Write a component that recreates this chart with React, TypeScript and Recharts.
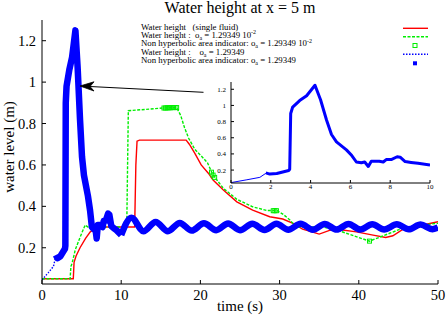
import React from 'react';
import { ComposedChart, Line, Scatter, XAxis, YAxis } from 'recharts';

type P = [number, number];

// tick labels
const xTicks = [0, 10, 20, 30, 40, 50];
const yTicks = [0.2, 0.4, 0.6, 0.8, 1, 1.2];
const insetXTicks = [0, 2, 4, 6, 8, 10];

// Water height (single fluid) - red
const redSingleFluid: P[] = [
  [0, 0.05], [3.95, 0.05], [4.05, 0.13], [4.3, 0.16], [4.8, 0.2], [5.5, 0.245],
  [6.1, 0.277], [6.9, 0.3], [11.7, 0.3], [11.85, 0.6], [12.0, 0.715], [12.3, 0.72],
  [18.2, 0.72], [18.6, 0.7], [19.3, 0.656], [20.1, 0.6], [21.0, 0.56], [21.6, 0.527],
  [22.9, 0.479], [24.6, 0.422], [26.6, 0.382], [28.75, 0.35], [30.4, 0.339],
  [31.7, 0.318], [32.9, 0.29], [35.0, 0.266], [36.3, 0.284], [37.5, 0.288],
  [39.7, 0.277], [41.8, 0.261], [43.4, 0.25], [44.3, 0.258], [45.5, 0.288],
  [48.1, 0.31], [50, 0.326],
];

// Water height : o_a = 1.29349e-2 - green dashed
const greenLowOa: P[] = [
  [0, 0.05], [3.55, 0.05], [3.65, 0.11], [3.8, 0.125], [4.2, 0.19], [4.8, 0.25],
  [5.45, 0.31], [5.8, 0.3], [10.7, 0.3], [10.9, 0.862], [13, 0.868], [15.3, 0.875],
  [17.0, 0.877], [17.5, 0.84], [18.0, 0.78], [18.5, 0.73], [19.3, 0.675],
  [20.2, 0.64], [20.9, 0.61], [21.6, 0.551], [22.9, 0.487], [24.6, 0.434],
  [26.6, 0.398], [28.4, 0.38], [29.7, 0.379], [30.5, 0.36], [31.3, 0.334],
  [32.1, 0.3], [35.5, 0.3], [37.2, 0.286], [41.35, 0.232], [43.9, 0.27],
  [45.5, 0.294], [49.75, 0.318], [50, 0.318],
];

// Non hyperbolic area indicator (o_a = 1.29349e-2) - green squares
const greenIndicator: P[] = [
  [15.4, 0.875], [15.6, 0.875], [15.8, 0.876], [16.0, 0.876], [16.2, 0.876],
  [16.4, 0.877], [16.6, 0.877], [16.8, 0.877], [17.0, 0.877],
  [21.4, 0.565], [21.6, 0.551], [21.8, 0.54],
  [29.2, 0.379], [29.4, 0.379], [29.6, 0.379],
  [41.35, 0.232],
];

// Water height : o_a = 1.29349 - blue dotted (before indicator)
const blueStart: P[] = [[0, 0.045], [0.8, 0.08], [1.45, 0.11], [1.75, 0.16]];

// Non hyperbolic area indicator (o_a = 1.29349) - blue squares, surge part
const blueSurge: P[] = [
  [1.75, 0.165], [1.95, 0.15], [2.3, 0.158], [2.9, 0.195], [2.95, 0.21],
  [3.0, 0.9], [3.1, 0.98], [3.45, 1.06], [3.8, 1.12], [4.22, 1.25], [4.5, 1.07],
  [4.8, 0.82], [5.05, 0.64], [5.3, 0.55], [5.8, 0.45], [6.07, 0.38], [6.3, 0.3],
  [6.55, 0.29], [6.72, 0.3], [6.9, 0.245], [7.05, 0.31], [7.45, 0.31],
  [7.65, 0.3], [7.8, 0.33], [8.05, 0.33], [8.35, 0.365], [8.5, 0.36],
  [8.75, 0.305], [9.05, 0.295], [9.4, 0.285], [10.0, 0.262],
];

// blue squares, oscillating part
const blueOscillation: P[] = [
  [10.0, 0.262], [11.3, 0.345], [12.8, 0.28], [14.35, 0.325], [15.9, 0.28],
  [17.4, 0.32], [18.9, 0.283], [20.45, 0.318], [22.0, 0.285], [23.5, 0.317],
  [25.0, 0.285], [26.55, 0.316], [28.1, 0.286], [29.6, 0.316], [31.1, 0.287],
  [32.65, 0.316], [34.2, 0.287], [35.7, 0.315], [37.2, 0.288], [38.7, 0.315],
  [40.2, 0.288], [41.7, 0.314], [43.2, 0.288], [44.8, 0.313], [46.3, 0.289],
  [47.8, 0.312], [49.3, 0.29], [50, 0.298],
];

const pts = (a: P[]) => a.map(([t, v]) => ({ t, v }));

const RED = '#ff0000';
const GREEN = '#00ee00';
const BLUE = '#0000ff';
const FONT = "'Liberation Serif', 'Times New Roman', serif";

const fmt = (v: number) => String(+v.toFixed(1));

const OpenSquare = (p: any) => (
  <rect x={p.cx - 2} y={p.cy - 2} width={4} height={4} fill="none" stroke={GREEN} strokeWidth={1} />
);

const axisLine = { stroke: '#000', strokeWidth: 1 };

const makeXTick = (fs: number, dy: number) => (p: any) => (
  <text x={p.x} y={p.y} dy={dy} textAnchor="middle" fontSize={fs} fill="#000"
    style={{ fontFamily: FONT }}>
    {fmt(p.payload.value)}
  </text>
);
const makeYTick = (fs: number, dy: number) => (p: any) => (
  <text x={p.x} y={p.y} dy={dy} textAnchor="end" fontSize={fs} fill="#000"
    style={{ fontFamily: FONT }}>
    {fmt(p.payload.value)}
  </text>
);

function MainChart() {
  return (
    <ComposedChart width={448} height={316} margin={{ top: 20, right: 10, bottom: 0, left: 0 }}>
      <XAxis dataKey="t" type="number" domain={[0, 50]} ticks={xTicks} interval={0}
        allowDataOverflow height={32} tickSize={-4} tickMargin={10}
        axisLine={axisLine} tickLine={axisLine} tick={makeXTick(14.5, 10)} />
      <XAxis xAxisId="top" orientation="top" type="number" domain={[0, 50]} ticks={xTicks}
        interval={0} mirror height={0} tickSize={4} tick={false}
        axisLine={axisLine} tickLine={axisLine} />
      <YAxis dataKey="v" type="number" domain={[0.025, 1.3]} ticks={yTicks} interval={0}
        allowDataOverflow width={42} tickSize={-4} tickMargin={10}
        axisLine={axisLine} tickLine={axisLine} tick={makeYTick(14.5, 5)} />
      <YAxis yAxisId="right" orientation="right" type="number" domain={[0.025, 1.3]}
        ticks={yTicks} interval={0} mirror width={0} tickSize={4} tick={false}
        axisLine={axisLine} tickLine={axisLine} />
      <Line data={pts(redSingleFluid)} dataKey="v" type="linear" stroke={RED}
        strokeWidth={1.4} dot={false} activeDot={false} isAnimationActive={false} />
      <Line data={pts(greenLowOa)} dataKey="v" type="linear" stroke={GREEN}
        strokeWidth={1.4} strokeDasharray="3 1.5" dot={false} activeDot={false}
        isAnimationActive={false} />
      <Scatter data={pts(greenIndicator)} dataKey="v" shape={OpenSquare}
        isAnimationActive={false} />
      <Line data={pts(blueStart)} dataKey="v" type="linear" stroke={BLUE}
        strokeWidth={1.4} strokeDasharray="1.5 1.5" dot={false} activeDot={false}
        isAnimationActive={false} />
      <Line data={pts(blueSurge)} dataKey="v" type="linear" stroke={BLUE}
        strokeWidth={6.5} strokeLinejoin="round" dot={false} activeDot={false}
        isAnimationActive={false} />
      <Line data={pts(blueOscillation)} dataKey="v" type="monotone" stroke={BLUE}
        strokeWidth={6.5} strokeLinejoin="round" dot={false} activeDot={false}
        isAnimationActive={false} />
    </ComposedChart>
  );
}

function InsetChart() {
  return (
    <ComposedChart width={240} height={115} margin={{ top: 4, right: 10, bottom: 0, left: 0 }}>
      <XAxis dataKey="t" type="number" domain={[0, 10]} ticks={insetXTicks} interval={0}
        allowDataOverflow height={10} tickSize={-3} tickMargin={3.5}
        axisLine={axisLine} tickLine={axisLine} tick={makeXTick(7, 5)} />
      <XAxis xAxisId="top" orientation="top" type="number" domain={[0, 10]} ticks={insetXTicks}
        interval={0} mirror height={0} tickSize={3} tick={false}
        axisLine={axisLine} tickLine={axisLine} />
      <YAxis dataKey="v" type="number" domain={[0.04, 1.29]} ticks={yTicks} interval={0}
        allowDataOverflow width={31} tickSize={-3} tickMargin={8}
        axisLine={axisLine} tickLine={axisLine} tick={makeYTick(7, 2.5)} />
      <YAxis yAxisId="right" orientation="right" type="number" domain={[0.04, 1.29]}
        ticks={yTicks} interval={0} mirror width={0} tickSize={3} tick={false}
        axisLine={axisLine} tickLine={axisLine} />
      <Line data={pts(blueStart)} dataKey="v" type="linear" stroke={BLUE}
        strokeWidth={1} dot={false} activeDot={false} isAnimationActive={false} />
      <Line data={pts(blueSurge)} dataKey="v" type="linear" stroke={BLUE}
        strokeWidth={3} strokeLinejoin="round" dot={false} activeDot={false}
        isAnimationActive={false} />
    </ComposedChart>
  );
}

function Overlay() {
  const lx = 141;
  const fs = 8.8;
  const sub = (s: string) => (
    <>
      <tspan dy={2} fontSize={6}>{s}</tspan>
      <tspan dy={-2}> </tspan>
    </>
  );
  const tx = 403;
  const tx2 = 428;
  const f = { fontFamily: FONT };
  return (
    <svg width={448} height={316} style={{ position: 'absolute', left: 0, top: 0, pointerEvents: 'none', fontFamily: FONT }}>
      <text x={240} y={13} fontSize={16} textAnchor="middle" fill="#000" style={f}>Water height at x = 5 m</text>
      <text x={240} y={311} fontSize={15} textAnchor="middle" fill="#000" style={f}>time (s)</text>
      <text x={14} y={147} fontSize={15} textAnchor="middle" fill="#000" style={f} transform="rotate(-90 14 147)">
        water level (m)
      </text>
      <g fontSize={fs} fill="#000" style={f}>
        <text x={lx} y={30}>Water height{'\u00a0\u00a0\u00a0'}(single fluid)</text>
        <text x={lx} y={37.8}>
          Water height :{'\u00a0\u00a0'}o{sub('a')}= 1.29349 10
          <tspan dy={-3.5} fontSize={6}>-2</tspan>
        </text>
        <text x={lx} y={46.2}>
          Non hyperbolic area indicator: o{sub('a')}= 1.29349 10
          <tspan dy={-3.5} fontSize={6}>-2</tspan>
        </text>
        <text x={lx} y={54.5}>
          Water height :{'\u00a0\u00a0\u00a0\u00a0'}o{sub('a')}= 1.29349
        </text>
        <text x={lx} y={63}>
          Non hyperbolic area indicator: o{sub('a')}= 1.29349
        </text>
      </g>
      <line x1={tx} x2={tx2} y1={28.3} y2={28.3} stroke={RED} strokeWidth={1.4} />
      <line x1={tx} x2={tx2} y1={36.7} y2={36.7} stroke={GREEN} strokeWidth={1.4} strokeDasharray="3 1.5" />
      <rect x={413} y={43.5} width={4} height={4} fill="none" stroke={GREEN} strokeWidth={1} />
      <line x1={tx} x2={tx2} y1={54.3} y2={54.3} stroke={BLUE} strokeWidth={1.4} strokeDasharray="1.5 1.5" />
      <rect x={413} y={61.3} width={4} height={4} fill={BLUE} />
      <line x1={203.5} y1={92.3} x2={90} y2={86.5} stroke="#000" strokeWidth={1} />
      <polygon points="80,86 94,81.8 90,86.5 94,91" fill="#000" stroke="#000" strokeWidth={0.8} strokeLinejoin="miter" />
    </svg>
  );
}

export default function App() {
  return (
    <div style={{ position: 'absolute', left: 0, top: 0, width: 448, height: 316, background: '#fff', fontFamily: FONT }}>
      <MainChart />
      <div style={{ position: 'absolute', left: 200, top: 78 }}>
        <InsetChart />
      </div>
      <Overlay />
    </div>
  );
}
